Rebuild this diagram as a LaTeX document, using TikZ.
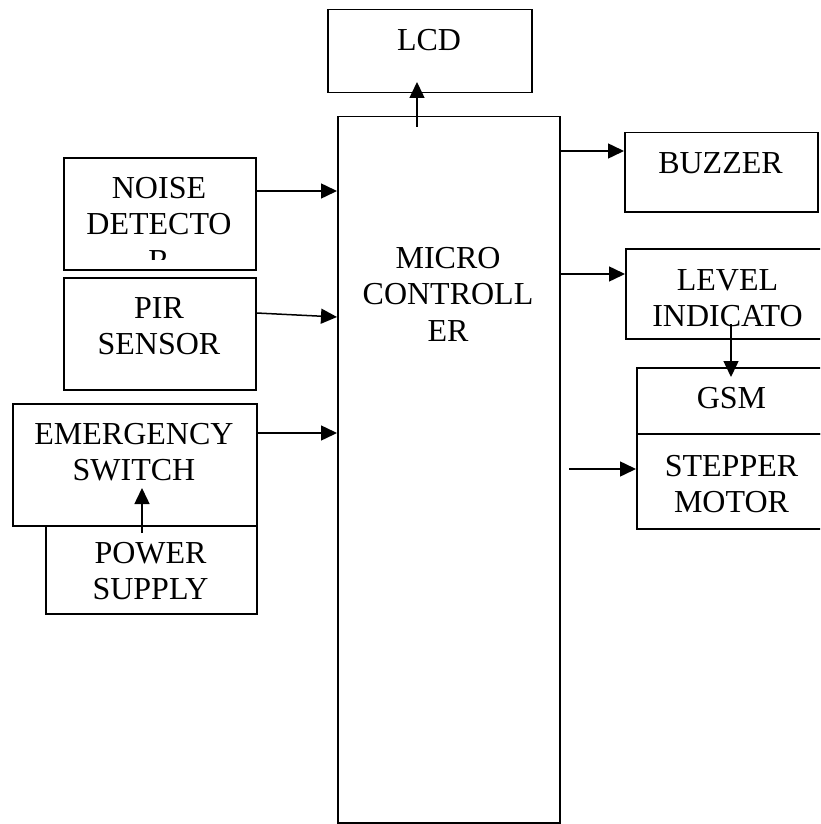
\documentclass[tikz,border=0pt]{standalone}
\usepackage{fontspec}
\setmainfont{Liberation Serif}
\usetikzlibrary{arrows.meta}
\newcommand\mlines[1]{\begin{tabular}[t]{@{}c@{}}#1\end{tabular}}
\begin{document}
\begin{tikzpicture}[x=1pt,y=-1pt,
  box/.style={draw,line width=1.5pt,inner sep=0pt,anchor=north west},
  lbl/.style={anchor=base,inner sep=0pt,font=\fontsize{32}{36.5}\selectfont},
  arr/.style={line width=1.5pt,-{Triangle[length=16pt,width=15pt]}}]
\useasboundingbox (0,0) rectangle (820,824);
\clip (0,0) rectangle (820,824);
% boxes
\node[box,minimum width=204pt,minimum height=83pt] (lcd) at (327,9) {};
\node[box,minimum width=222pt,minimum height=706pt] (mc) at (337,116) {};
\node[box,minimum width=192pt,minimum height=112pt] (noise) at (63,157) {};
\node[box,minimum width=192pt,minimum height=112pt] (pir) at (63,277) {};
\node[box,minimum width=211pt,minimum height=88pt] (power) at (45,525) {};
\node[box,minimum width=244pt,minimum height=122pt] (emerg) at (12,403) {};
\node[box,minimum width=193pt,minimum height=79pt] (buzzer) at (624,132) {};
\node[box,minimum width=205pt,minimum height=90pt] (level) at (625,248) {};
\node[box,minimum width=191pt,minimum height=66pt] (gsm) at (636,367) {};
\node[box,minimum width=191pt,minimum height=95pt] (stepper) at (636,433) {};
% labels
\node[lbl] (lcdt) at (429,51) {LCD};
\node[lbl] (mct) at (448,268) {\mlines{MICRO\\CONTROLL\\ER}};
\begin{scope}
  \clip (63,157) rectangle (255,259);
  \node[lbl] (noiset) at (159,198) {\mlines{NOISE\\DETECTO\\R}};
\end{scope}
\node[lbl] (pirt) at (159,318) {\mlines{PIR\\SENSOR}};
\node[lbl] (emergt) at (134,444) {\mlines{EMERGENCY\\SWITCH}};
\node[lbl] (powert) at (150.5,563) {\mlines{POWER\\SUPPLY}};
\node[lbl] (buzzert) at (720.5,173) {BUZZER};
\node[lbl] (levelt) at (727.5,290) {\mlines{LEVEL\\INDICATO}};
\node[lbl] (gsmt) at (731.5,408) {GSM};
\node[lbl] (steppert) at (731.5,476) {\mlines{STEPPER\\MOTOR}};
% connector end points
\coordinate (lcdA) at (417,127);
\coordinate (lcdB) at (417,82);
\coordinate (psA) at (142,533);
\coordinate (psB) at (142,488);
\coordinate (lvA) at (731,324);
\coordinate (lvB) at (731,377);
\coordinate (stA) at (569,469);
% connectors
\draw[arr] (lcdA) -- (lcdB);
\draw[arr] (noise.east |- 0,191) -- (mc.west |- 0,191);
\draw[arr] (pir.east |- 0,313) -- (mc.west |- 0,317);
\draw[arr] (emerg.east |- 0,433) -- (mc.west |- 0,433);
\draw[arr] (psA) -- (psB);
\draw[arr] (mc.east |- 0,151) -- (buzzer.west |- 0,151);
\draw[arr] (mc.east |- 0,274) -- (level.west |- 0,274);
\draw[arr] (lvA) -- (lvB);
\draw[arr] (stA) -- (stepper.west |- stA);
\end{tikzpicture}
\end{document}
